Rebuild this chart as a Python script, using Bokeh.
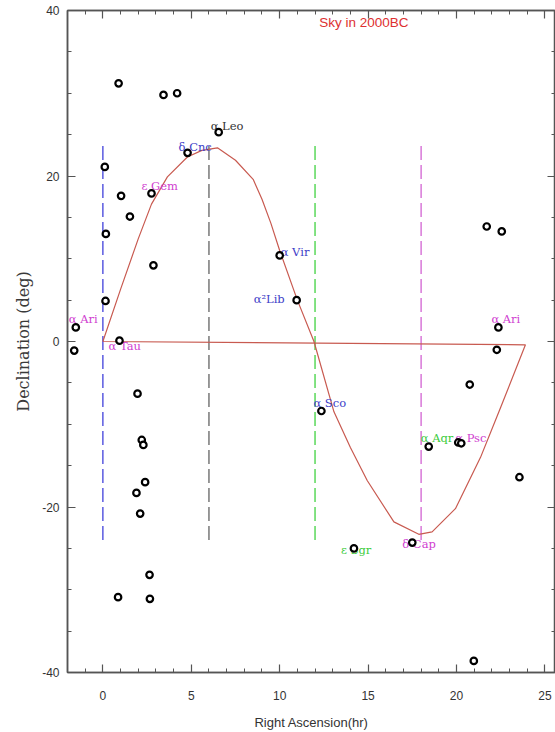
from bokeh.plotting import figure
from bokeh.models import (ColumnDataSource, LinearAxis, SingleIntervalTicker, Range1d, Label,
                          PrintfTickFormatter)
from bokeh.embed import file_html
from bokeh.resources import INLINE
from bokeh.core.properties import value

# ---- data ----
star_ra = [0.89, 3.43, 4.20, 6.55, 4.79, 0.11, 1.03, 2.75, 1.53, 0.17, 2.86, 0.15,
           -1.53, -1.62, 0.94, 1.96, 2.20, 2.29, 2.39, 1.90, 2.11, 2.64, 0.86, 2.66,
           21.71, 22.56, 10.00, 10.96, 22.37, 22.28, 20.75, 12.36, 18.43, 20.10, 20.27,
           23.56, 14.20, 17.50, 20.98]
star_dec = [31.2, 29.8, 30.0, 25.3, 22.8, 21.1, 17.6, 17.9, 15.1, 13.0, 9.2, 4.9,
            1.7, -1.1, 0.1, -6.3, -11.9, -12.5, -17.0, -18.3, -20.8, -28.2, -30.9, -31.1,
            13.9, 13.3, 10.4, 5.0, 1.7, -1.0, -5.2, -8.4, -12.7, -12.2, -12.3,
            -16.4, -25.0, -24.3, -38.6]
star_name = ["", "", "", "α Leo", "δ Cnc", "", "", "ε Gem", "", "", "", "",
             "α Ari", "", "α Tau", "", "", "", "", "", "", "", "", "",
             "", "", "α Vir", "α²Lib", "α Ari", "", "", "α Sco", "α Aqr", "", "α Psc",
             "", "ε Sgr", "δ Cap", ""]

ecl_ra = [0.0, 1.0, 2.0, 2.75, 3.65, 4.78, 5.6, 6.48, 7.5, 8.5, 9.0, 9.5, 10.0, 11.0, 11.94,
          13.07, 14.0, 14.95, 16.46, 17.87, 18.62, 19.94, 21.36, 22.49, 23.9, 0.0]
ecl_dec = [0.0, 6.3, 12.4, 16.6, 19.9, 22.3, 23.1, 23.4, 21.9, 19.6, 17.2, 14.3, 11.0, 5.0, 0.0,
           -8.5, -12.8, -16.8, -21.8, -23.3, -23.0, -20.2, -14.0, -8.0, -0.4, 0.0]

guide_ra = [0, 6, 12, 18]
guide_dec_lo = [-24, -24, -24, -24]
guide_dec_hi = [24, 24, 24, 24]

title_text = "Sky in 2000BC"

# ---- styles ----
BLUE = "#4040c8"
MAG = "#d040d0"
GRN = "#3ccc3c"
label_style = {
    "α Leo": ("#333333", -8, -6),
    "δ Cnc": (BLUE, -9, -6),
    "ε Gem": (MAG, -10, -7),
    "α Ari": (MAG, -7, -8),
    "α Tau": (MAG, -11, 5),
    "α Vir": (BLUE, 1, -3),
    "α²Lib": (BLUE, -43, -1),
    "α Sco": (BLUE, -8, -8),
    "α Aqr": (GRN, -8, -9),
    "α Psc": (MAG, -6, -5),
    "ε Sgr": (GRN, -13, 2),
    "δ Cap": (MAG, -10, 1),
}
guide_colors = ["#5a5ae0", "#777777", "#5ad85a", "#d878d8"]

AX = "#555555"

p = figure(width=555, height=732, x_range=Range1d(-2, 25.6), y_range=Range1d(-40, 40),
           output_backend="svg", toolbar_location=None,
           min_border_left=67, min_border_right=0, min_border_top=10, min_border_bottom=60)
p.grid.visible = False
p.outline_line_color = AX
p.outline_line_width = 1.5
p.background_fill_color = "white"
p.border_fill_color = "white"

def style_axis(ax, labels=True):
    ax.axis_line_color = AX
    ax.axis_line_width = 1.5
    ax.major_tick_line_color = AX
    ax.minor_tick_line_color = AX
    ax.major_tick_line_width = 1.2
    ax.minor_tick_line_width = 1.0
    ax.major_tick_in = 8
    ax.major_tick_out = 0
    ax.minor_tick_in = 4
    ax.minor_tick_out = 0
    if labels:
        ax.major_label_text_font = "Liberation Sans"
        ax.major_label_text_font_size = "12px"
        ax.major_label_text_color = "#333333"
    else:
        ax.major_label_text_color = None
        ax.major_label_text_font_size = "1px"
        ax.major_label_standoff = 0

xt = SingleIntervalTicker(interval=5, num_minor_ticks=5)
yt = SingleIntervalTicker(interval=20, num_minor_ticks=4)

xa = p.xaxis[0]
xa.ticker = xt
style_axis(xa)
xa.formatter = PrintfTickFormatter(format="%d")
xa.major_label_standoff = 18
xa.axis_label = "Right Ascension(hr)"
xa.axis_label_text_font = "Liberation Sans"
xa.axis_label_text_font_size = "13px"
xa.axis_label_text_font_style = "normal"
xa.axis_label_text_color = "#333333"
xa.axis_label_standoff = 12

ya = p.yaxis[0]
ya.ticker = yt
style_axis(ya)
ya.formatter = PrintfTickFormatter(format="%d")
ya.major_label_standoff = 8
ya.axis_label = "Declination (deg)"
ya.axis_label_text_font = "DejaVu Serif"
ya.axis_label_text_font_size = "16px"
ya.axis_label_text_font_style = "normal"
ya.axis_label_text_color = "#3a3a3a"
ya.axis_label_standoff = 6

top = LinearAxis(ticker=SingleIntervalTicker(interval=5, num_minor_ticks=5))
style_axis(top, labels=False)
p.add_layout(top, "above")
right = LinearAxis(ticker=SingleIntervalTicker(interval=20, num_minor_ticks=4))
style_axis(right, labels=False)
p.add_layout(right, "right")

# guide dashed lines
gsrc = ColumnDataSource(dict(x=guide_ra, y0=guide_dec_lo, y1=guide_dec_hi, c=guide_colors))
p.segment(x0="x", y0="y0", x1="x", y1="y1", source=gsrc, line_color="c",
          line_dash="14 5", line_width=1.5)

# ecliptic
p.line(ecl_ra, ecl_dec, line_color="#c85a50", line_width=1.2)

# labels
lab = dict(x=[], y=[], t=[], c=[], dx=[], dy=[])
for r, d, n in zip(star_ra, star_dec, star_name):
    if n:
        c, dx, dy = label_style[n]
        lab["x"].append(r); lab["y"].append(d); lab["t"].append(n)
        lab["c"].append(c); lab["dx"].append(dx); lab["dy"].append(dy)
lsrc = ColumnDataSource(lab)
p.text(x="x", y="y", text="t", source=lsrc, text_color="c", x_offset="dx", y_offset="dy",
       text_font=value("DejaVu Serif"), text_font_size="11.5px",
       text_align="left", text_baseline="middle")

# stars
p.scatter(star_ra, star_dec, marker="circle", size=6.5, line_color="black",
          line_width=2.2, fill_color="white")

p.add_layout(Label(x=14.76, y=38.5, text=title_text, text_color="#dd3030",
                   text_font="Liberation Sans", text_font_size="13.5px",
                   text_align="center", text_baseline="middle"))

open("out.html", "w").write(file_html(p, INLINE))
